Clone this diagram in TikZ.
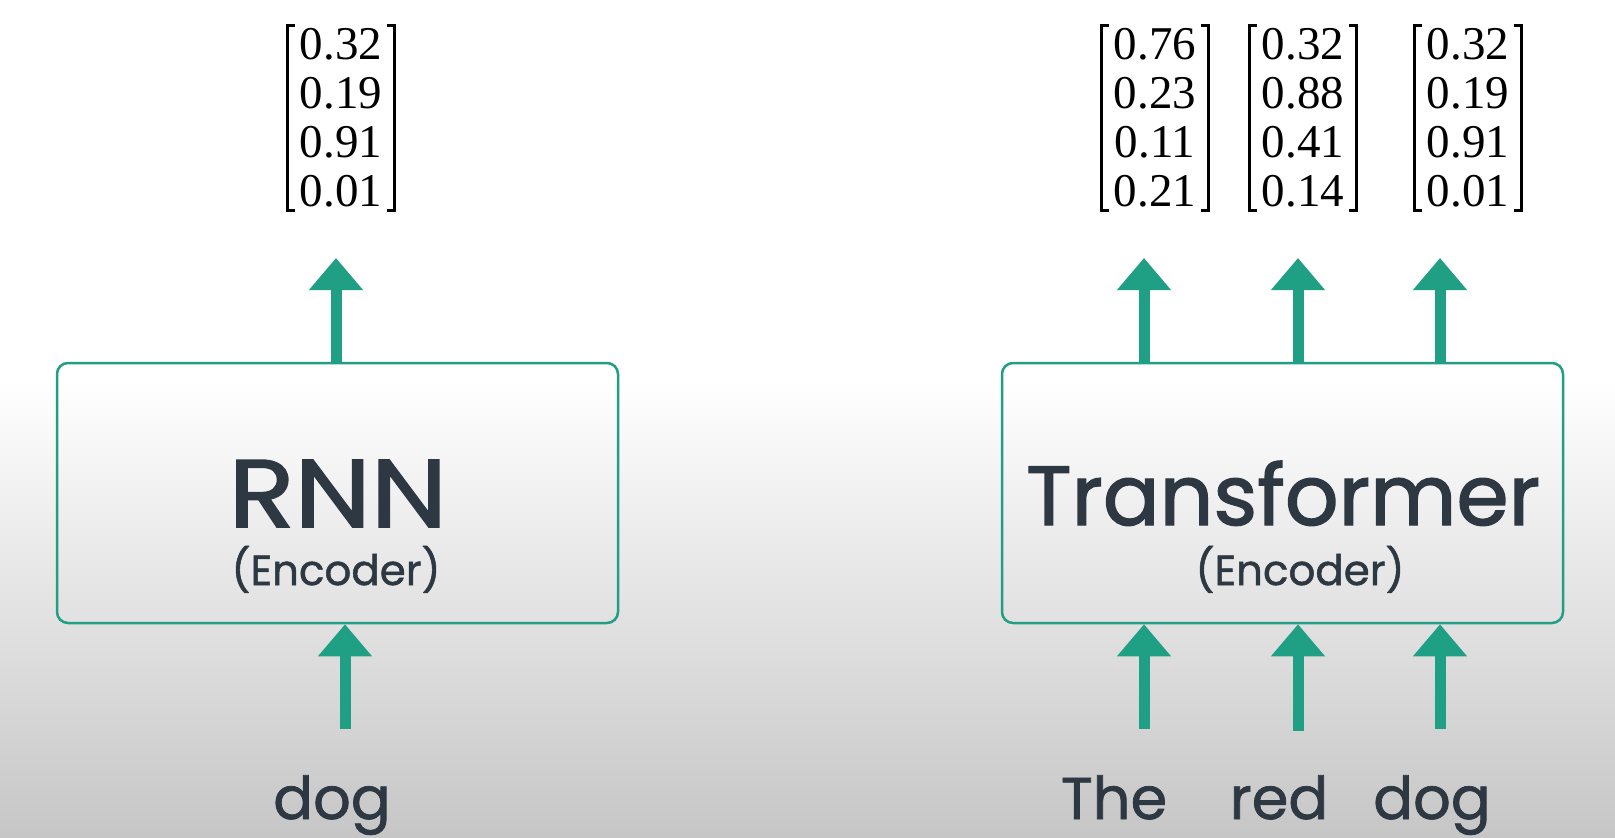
\documentclass[tikz,border=0pt]{standalone}
\usepackage{fontspec}
\setmainfont{Liberation Serif}
\newfontfamily\labelfont[FakeBold=1.6]{Poppins}
\newfontfamily\wordfont[FakeBold=1.2]{Poppins}
\usetikzlibrary{arrows.meta,calc}
\definecolor{teal1}{RGB}{31,160,132}
\definecolor{ink}{RGB}{45,56,66}
\definecolor{bgbot}{RGB}{198,198,198}
\begin{document}
\begin{tikzpicture}[x=1pt,y=-1pt,
  encbox/.style={draw=teal1,line width=2.5pt,rounded corners=11pt,minimum width=561pt,minimum height=260pt,inner sep=0pt},
  arr/.style={draw=teal1,line width=11pt,-{Triangle[width=52pt,length=32pt]}},
  vec/.style={inner xsep=12pt,inner ysep=0pt,anchor=base,font=\fontsize{47}{49}\selectfont},
  brk/.style={line width=3pt,black},
  big/.style={anchor=base,inner sep=0pt,text=ink,font=\labelfont\fontsize{#1}{#1}\selectfont},
  enc/.style={anchor=base,inner sep=0pt,text=ink,font=\wordfont\fontsize{#1}{#1}\selectfont},
  word/.style={anchor=base,inner sep=0pt,text=ink,font=\wordfont\fontsize{59}{60}\selectfont}
]
\useasboundingbox (0,0) rectangle (1615,838);
\fill[white] (0,0) rectangle (1615,380);
\shade[top color=white,bottom color=bgbot] (0,380) rectangle (1615,838);

% boxes
\node[encbox] (rnn) at (337.5,493) {};
\node[encbox] (tr) at (1282.5,493) {};

\node[big=96,xscale=1.13] (rnnt) at (338,527) {RNN};
\node[enc=42] (rnne) at (336,585) {(Encoder)};
\node[big=84] (trt) at (1283,525) {Transformer};
\node[enc=42] (tre) at (1300,585) {(Encoder)};

% words
\node[word] (w0) at (332,819) {dog};
\node[word] (w1) at (1114,819) {The};
\node[word] (w2) at (1279,819) {red};
\node[word] (w3) at (1432,819) {dog};

% vectors
\newcommand{\vecbrackets}[1]{%
  \draw[brk] ([xshift=7pt,yshift=-1pt]#1.north west) -- ([yshift=-1pt]#1.north west) -- ([yshift=10pt]#1.south west) -- ([xshift=7pt,yshift=10pt]#1.south west);
  \draw[brk] ([xshift=-7pt,yshift=-1pt]#1.north east) -- ([yshift=-1pt]#1.north east) -- ([yshift=10pt]#1.south east) -- ([xshift=-7pt,yshift=10pt]#1.south east);
}
\node[vec] (v0) at (341,59) {\begin{tabular}[t]{@{}c@{}}0.32\\0.19\\0.91\\0.01\end{tabular}};
\node[vec] (v1) at (1155,59) {\begin{tabular}[t]{@{}c@{}}0.76\\0.23\\0.11\\0.21\end{tabular}};
\node[vec] (v2) at (1303,59) {\begin{tabular}[t]{@{}c@{}}0.32\\0.88\\0.41\\0.14\end{tabular}};
\node[vec] (v3) at (1468,59) {\begin{tabular}[t]{@{}c@{}}0.32\\0.19\\0.91\\0.01\end{tabular}};
\vecbrackets{v0}
\vecbrackets{v1}
\vecbrackets{v2}
\vecbrackets{v3}

% arrow ends
\coordinate (o0) at (336,258);
\coordinate (o1) at (1144,258);
\coordinate (o2) at (1298,258);
\coordinate (o3) at (1440,258);
\coordinate (i0) at (345,729);
\coordinate (i1) at (1144,729);
\coordinate (i2) at (1298,731);
\coordinate (i3) at (1440,729);

\draw[arr] (rnn.north -| o0) -- (o0);
\draw[arr] (tr.north -| o1) -- (o1);
\draw[arr] (tr.north -| o2) -- (o2);
\draw[arr] (tr.north -| o3) -- (o3);
\draw[arr] (i0) -- (i0 |- rnn.south);
\draw[arr] (i1) -- (i1 |- tr.south);
\draw[arr] (i2) -- (i2 |- tr.south);
\draw[arr] (i3) -- (i3 |- tr.south);
\end{tikzpicture}
\end{document}
